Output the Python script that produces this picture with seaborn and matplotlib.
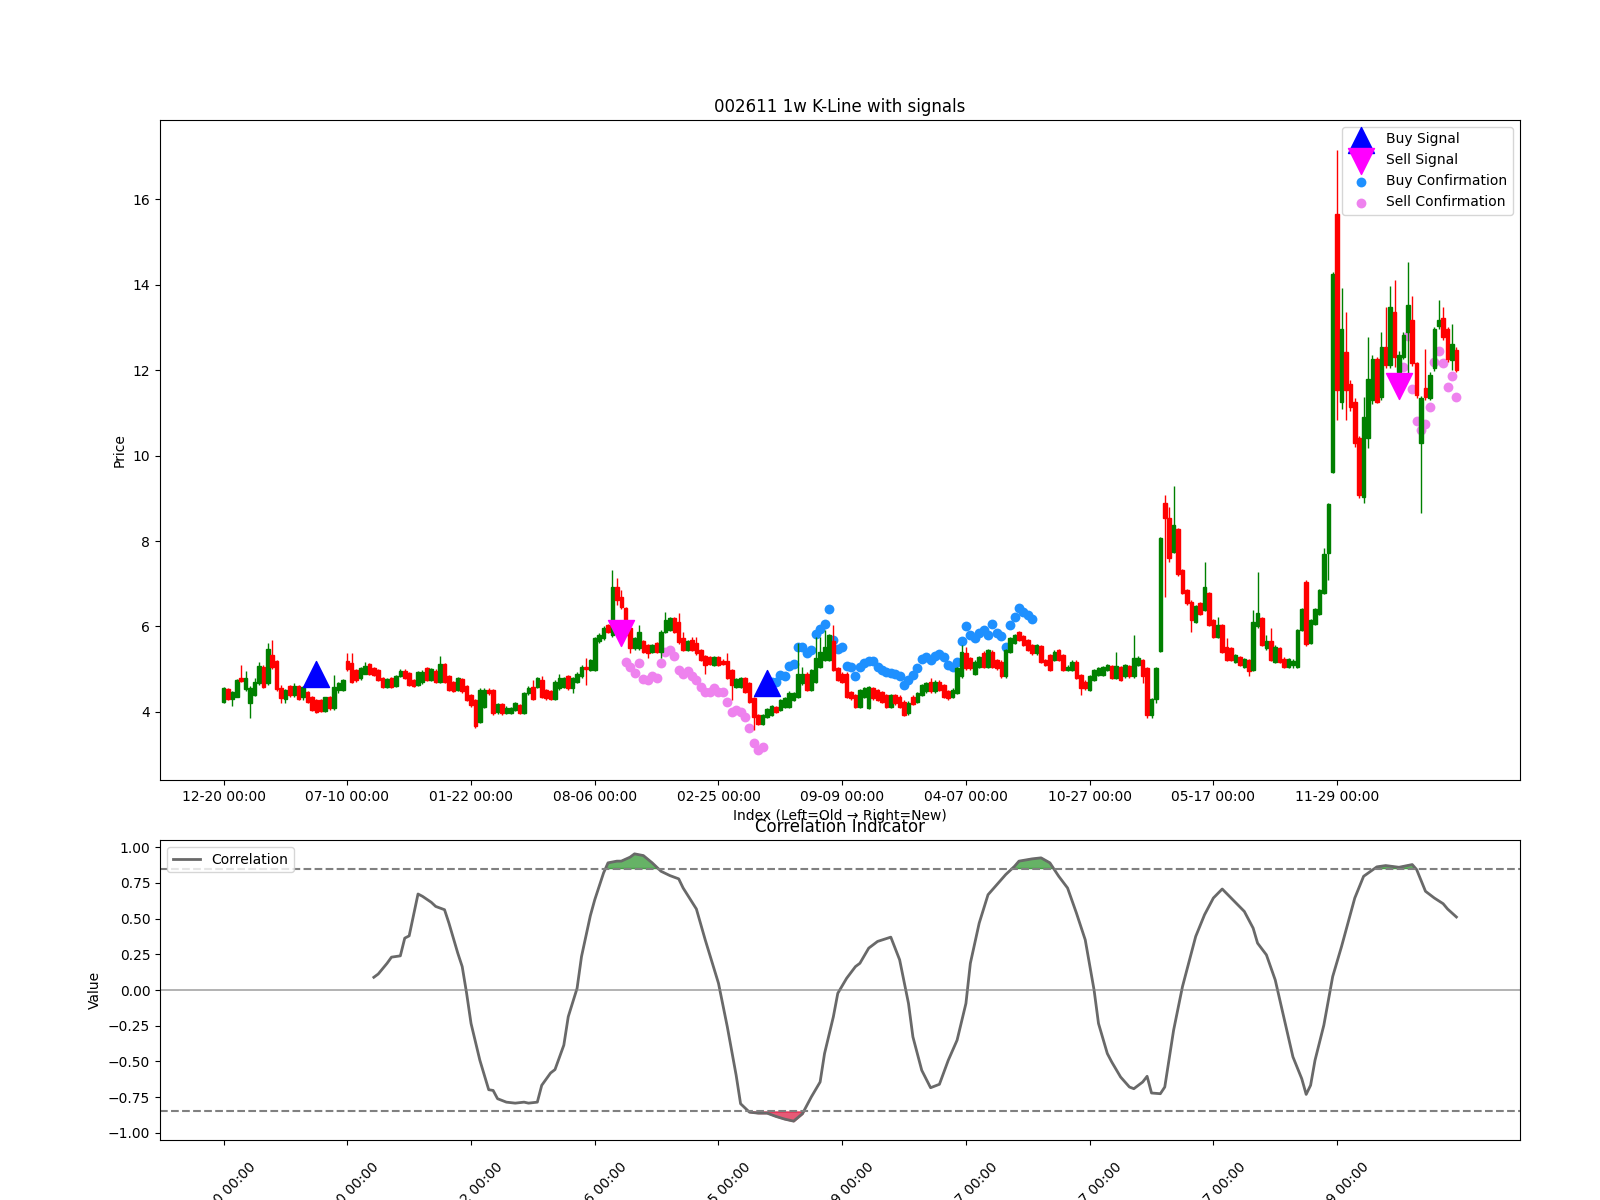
import numpy as np
import pandas as pd
import matplotlib
matplotlib.use("Agg")
import matplotlib.pyplot as plt
import seaborn as sns

# x tick labels (weekly bars, one label every 28 bars)
tick_pos = [0, 28, 56, 84, 112, 140, 168, 196, 224, 252]
tick_labels = ["12-20 00:00", "07-10 00:00", "01-22 00:00", "08-06 00:00", "02-25 00:00",
               "09-09 00:00", "04-07 00:00", "10-27 00:00", "05-17 00:00", "11-29 00:00"]

# weekly OHLC (index 0 = oldest)
opens = [
    4.23, 4.53, 4.30, 4.36, 4.79, 4.53, 4.20, 4.40, 4.67, 5.06,
    4.67, 5.33, 5.19, 4.55, 4.30, 4.61, 4.40, 4.61, 4.36, 4.47,
    4.36, 4.28, 4.28, 4.02, 4.34, 4.09, 4.51, 4.51, 5.19, 5.14,
    4.98, 4.79, 4.90, 5.12, 5.02, 4.98, 4.79, 4.58, 4.79, 4.61,
    4.84, 4.96, 4.92, 4.75, 4.63, 4.70, 5.02, 4.75, 4.97, 4.71,
    5.12, 4.83, 4.69, 4.51, 4.77, 4.61, 4.40, 4.28, 3.77, 4.12,
    4.51, 4.51, 3.99, 4.19, 3.97, 3.98, 4.05, 4.16, 3.97, 4.44,
    4.59, 4.59, 4.75, 4.51, 4.48, 4.30, 4.55, 4.59, 4.83, 4.55,
    4.71, 4.83, 5.06, 4.98, 4.98, 5.65, 5.72, 6.04, 5.80, 6.93,
    6.70, 6.43, 5.96, 5.49, 5.49, 5.65, 5.57, 5.41, 5.61, 5.41,
    5.88, 5.92, 6.19, 6.10, 5.72, 5.45, 5.68, 5.61, 5.45, 5.31,
    5.28, 5.10, 5.28, 5.20, 5.20, 4.98, 4.59, 4.59, 4.79, 4.67,
    4.32, 3.93, 3.73, 3.89, 3.93, 4.12, 4.05, 4.12, 4.12, 4.28,
    4.36, 4.67, 4.90, 4.51, 4.71, 5.06, 5.22, 5.22, 5.65, 5.02,
    4.90, 4.90, 4.47, 4.40, 4.12, 4.36, 4.09, 4.55, 4.51, 4.47,
    4.40, 4.12, 4.40, 4.36, 4.24, 3.97, 4.36, 4.24, 4.40, 4.48,
    4.71, 4.48, 4.71, 4.63, 4.48, 4.36, 4.44, 4.83, 5.37, 5.26,
    4.90, 5.06, 5.39, 5.06, 5.41, 5.22, 5.18, 4.83, 5.41, 5.61,
    5.86, 5.78, 5.68, 5.57, 5.37, 5.54, 5.22, 5.33, 5.22, 5.45,
    5.33, 4.98, 4.98, 5.18, 4.87, 4.71, 4.52, 4.75, 4.87, 4.87,
    4.98, 5.08, 4.79, 5.05, 4.83, 5.08, 4.83, 5.10, 5.22, 5.02,
    3.93, 4.30, 5.43, 8.88, 8.53, 7.75, 8.27, 7.32, 6.85, 6.58,
    6.11, 6.54, 6.39, 6.78, 6.15, 5.76, 6.04, 5.53, 5.49, 5.17,
    5.29, 5.06, 5.22, 4.98, 6.00, 6.19, 5.49, 5.65, 5.18, 5.49,
    5.25, 5.06, 5.10, 5.06, 5.92, 7.05, 5.61, 6.07, 6.29, 6.78,
    7.71, 9.62, 15.66, 11.26, 12.43, 11.67, 11.26, 10.40, 9.04, 10.40,
    11.30, 12.27, 11.38, 12.55, 12.12, 13.37, 11.96, 12.31, 12.90, 13.18,
    12.16, 10.30, 11.57, 11.35, 12.04, 13.02, 13.21, 12.95, 12.23, 12.48,
]
closes = [
    4.55, 4.30, 4.47, 4.75, 4.72, 4.79, 4.55, 4.71, 5.08, 4.58,
    5.47, 5.06, 4.53, 4.32, 4.51, 4.40, 4.61, 4.30, 4.59, 4.24,
    4.05, 4.01, 4.02, 4.34, 4.09, 4.58, 4.67, 4.75, 5.00, 4.71,
    4.75, 5.02, 5.08, 4.90, 4.87, 4.75, 4.58, 4.76, 4.59, 4.84,
    4.96, 4.79, 4.63, 4.61, 4.94, 4.94, 4.75, 5.00, 4.71, 5.12,
    4.71, 4.51, 4.50, 4.79, 4.48, 4.28, 4.16, 3.66, 4.51, 4.51,
    4.44, 3.97, 4.19, 3.97, 4.10, 4.09, 4.20, 3.97, 4.44, 4.55,
    4.30, 4.79, 4.36, 4.32, 4.30, 4.71, 4.79, 4.79, 4.55, 4.79,
    4.90, 5.06, 5.00, 5.22, 5.72, 5.80, 5.96, 5.88, 6.93, 6.62,
    6.46, 5.80, 5.49, 5.72, 5.88, 5.41, 5.37, 5.57, 5.41, 5.88,
    6.15, 6.19, 5.88, 5.63, 5.45, 5.65, 5.45, 5.37, 5.22, 5.10,
    5.12, 5.28, 5.10, 5.12, 4.79, 4.63, 4.76, 4.79, 4.47, 4.24,
    3.89, 3.73, 3.93, 4.07, 4.14, 4.01, 4.28, 4.32, 4.45, 4.44,
    4.90, 4.90, 4.51, 4.98, 5.26, 5.41, 5.53, 5.80, 4.98, 4.75,
    4.71, 4.36, 4.32, 4.12, 4.51, 4.55, 4.58, 4.32, 4.28, 4.24,
    4.12, 4.40, 4.20, 4.12, 3.93, 4.22, 4.19, 4.44, 4.63, 4.67,
    4.48, 4.71, 4.52, 4.36, 4.32, 4.52, 5.02, 5.41, 5.02, 5.02,
    5.18, 5.29, 5.06, 5.45, 5.06, 5.02, 4.83, 5.45, 5.72, 5.80,
    5.68, 5.57, 5.45, 5.37, 5.57, 5.18, 5.10, 4.98, 5.41, 5.22,
    4.98, 5.06, 5.18, 4.79, 4.55, 4.55, 4.83, 4.98, 5.02, 5.05,
    5.10, 4.79, 5.08, 4.75, 5.10, 4.83, 5.26, 5.27, 4.83, 3.93,
    4.30, 5.02, 8.06, 8.53, 7.60, 8.37, 7.22, 6.78, 6.54, 6.15,
    6.48, 6.30, 6.93, 6.04, 5.76, 6.04, 5.41, 5.22, 5.22, 5.33,
    5.10, 5.23, 4.97, 6.11, 6.32, 5.57, 5.65, 5.22, 5.53, 5.18,
    5.06, 5.23, 5.20, 5.92, 6.40, 5.58, 6.15, 6.40, 6.85, 7.70,
    8.87, 14.26, 11.53, 12.97, 11.53, 11.14, 10.29, 9.08, 10.91, 11.78,
    12.27, 11.26, 12.55, 12.12, 13.48, 12.31, 12.35, 12.82, 13.52, 12.16,
    11.42, 11.35, 11.38, 11.88, 12.95, 13.18, 12.78, 12.25, 12.61, 12.00,
]
highs = [
    4.58, 4.56, 4.50, 4.78, 5.10, 4.97, 4.60, 4.79, 5.18, 5.10,
    5.61, 5.68, 5.22, 4.63, 4.53, 4.63, 4.67, 4.63, 4.61, 4.50,
    4.38, 4.30, 4.30, 4.36, 4.38, 4.87, 4.70, 4.78, 5.37, 5.37,
    5.00, 5.05, 5.18, 5.14, 5.05, 5.00, 4.81, 4.79, 4.81, 4.87,
    5.00, 5.00, 4.94, 4.78, 4.97, 4.98, 5.05, 5.02, 5.00, 5.30,
    5.15, 4.86, 4.72, 4.82, 4.80, 4.64, 4.43, 4.30, 4.55, 4.55,
    4.55, 4.53, 4.22, 4.21, 4.13, 4.12, 4.23, 4.18, 4.47, 4.60,
    4.75, 4.82, 4.85, 4.54, 4.51, 4.74, 4.88, 4.82, 4.86, 4.82,
    4.93, 5.09, 5.26, 5.25, 5.75, 5.84, 6.00, 6.07, 7.32, 7.13,
    6.85, 6.46, 5.99, 5.75, 6.04, 5.68, 5.60, 5.60, 5.64, 5.91,
    6.35, 6.22, 6.22, 6.31, 5.88, 5.68, 5.76, 5.76, 5.48, 5.34,
    5.31, 5.31, 5.31, 5.23, 5.37, 5.01, 4.79, 4.82, 4.82, 4.70,
    4.35, 3.96, 3.96, 4.10, 4.17, 4.15, 4.31, 4.35, 4.48, 4.47,
    5.61, 5.06, 4.93, 5.01, 5.76, 5.76, 5.92, 5.83, 6.04, 5.05,
    4.93, 4.93, 4.50, 4.43, 4.54, 4.58, 4.61, 4.58, 4.54, 4.50,
    4.43, 4.43, 4.43, 4.39, 4.27, 4.25, 4.39, 4.47, 4.66, 4.70,
    4.79, 4.74, 4.74, 4.66, 4.51, 4.55, 5.05, 5.57, 5.53, 5.29,
    5.21, 5.32, 5.42, 5.48, 5.44, 5.25, 5.21, 5.48, 5.75, 5.83,
    5.89, 5.81, 5.71, 5.60, 5.60, 5.57, 5.25, 5.36, 5.44, 5.48,
    5.36, 5.09, 5.21, 5.21, 4.90, 4.74, 4.86, 5.01, 5.05, 5.08,
    5.13, 5.11, 5.41, 5.08, 5.13, 5.11, 5.80, 5.30, 5.25, 5.05,
    4.33, 5.05, 8.09, 9.07, 8.80, 9.29, 8.30, 7.35, 6.88, 6.61,
    6.51, 6.57, 7.52, 6.81, 6.18, 6.23, 6.07, 5.72, 5.52, 5.36,
    5.32, 5.26, 5.25, 6.38, 7.28, 6.22, 5.80, 5.96, 5.56, 5.52,
    5.28, 5.26, 5.23, 5.95, 6.43, 7.08, 6.18, 6.43, 6.88, 7.83,
    8.90, 14.29, 17.15, 13.91, 13.37, 11.76, 11.35, 10.45, 11.38, 12.78,
    12.35, 12.31, 12.90, 13.48, 13.97, 14.10, 12.45, 12.90, 14.54, 13.73,
    12.20, 11.40, 12.50, 11.95, 13.00, 13.64, 13.48, 13.00, 13.09, 12.55,
]
lows = [
    4.20, 4.28, 4.14, 4.34, 4.70, 4.50, 3.85, 4.38, 4.62, 4.55,
    4.62, 5.00, 4.50, 4.20, 4.20, 4.36, 4.36, 4.28, 4.28, 4.20,
    4.02, 3.98, 4.00, 4.00, 4.05, 4.05, 4.45, 4.48, 4.97, 4.68,
    4.70, 4.75, 4.88, 4.87, 4.84, 4.72, 4.55, 4.55, 4.56, 4.58,
    4.81, 4.76, 4.60, 4.58, 4.60, 4.66, 4.72, 4.72, 4.68, 4.68,
    4.68, 4.48, 4.46, 4.48, 4.44, 4.25, 4.12, 3.62, 3.74, 4.09,
    4.40, 3.92, 3.96, 3.94, 3.95, 3.96, 4.02, 3.95, 3.95, 4.40,
    4.27, 4.56, 4.33, 4.29, 4.27, 4.27, 4.52, 4.56, 4.52, 4.44,
    4.68, 4.80, 4.63, 4.95, 4.95, 5.62, 5.69, 5.85, 5.75, 6.50,
    6.40, 5.77, 5.37, 5.46, 5.46, 5.38, 5.26, 5.38, 5.38, 5.26,
    5.85, 5.89, 5.85, 5.60, 5.42, 5.42, 5.42, 5.34, 5.19, 4.90,
    5.09, 5.07, 5.07, 5.09, 4.76, 4.28, 4.56, 4.56, 4.44, 4.21,
    3.58, 3.70, 3.70, 3.86, 3.90, 3.98, 4.02, 4.09, 4.09, 4.25,
    4.33, 4.64, 4.48, 4.48, 4.68, 5.03, 5.19, 5.19, 4.95, 4.72,
    4.68, 4.33, 4.29, 4.09, 4.09, 4.33, 4.06, 4.29, 4.25, 4.21,
    4.09, 4.09, 4.17, 4.09, 3.90, 3.94, 4.16, 4.21, 4.37, 4.45,
    4.45, 4.45, 4.49, 4.33, 4.29, 4.33, 4.41, 4.80, 4.99, 4.99,
    4.87, 5.03, 5.03, 5.03, 5.03, 4.99, 4.80, 4.80, 5.38, 5.58,
    5.65, 5.54, 5.42, 5.34, 5.34, 5.15, 5.07, 4.95, 5.19, 5.19,
    4.95, 4.95, 4.95, 4.76, 4.40, 4.52, 4.49, 4.72, 4.84, 4.84,
    4.95, 4.76, 4.76, 4.72, 4.80, 4.80, 4.80, 5.07, 4.67, 3.85,
    3.85, 4.20, 5.40, 6.70, 7.50, 7.72, 7.19, 6.75, 6.51, 5.88,
    6.08, 6.27, 6.36, 6.01, 5.73, 5.73, 5.38, 5.19, 5.19, 5.14,
    5.07, 5.03, 4.83, 4.95, 5.97, 5.54, 5.46, 5.19, 5.15, 5.15,
    5.03, 5.03, 5.03, 5.03, 5.89, 5.55, 5.58, 6.04, 6.26, 6.75,
    7.08, 9.59, 10.83, 11.10, 10.83, 11.05, 10.20, 9.00, 8.88, 10.17,
    11.20, 11.22, 11.30, 12.05, 12.05, 12.08, 11.90, 12.25, 11.92, 12.10,
    11.35, 8.65, 11.30, 11.30, 11.98, 12.95, 12.70, 12.20, 12.00, 11.95,
]

# signals
buy_idx = [21, 123]
buy_px = [4.90, 4.67]
sell_idx = [90, 266]
sell_px = [5.84, 11.63]

buyc_idx = list(range(124, 184))
buyc_px = [
    4.69, 4.71, 4.87, 4.84, 5.08, 5.12, 5.51, 5.53, 5.39, 5.45,
    5.82, 5.93, 6.07, 6.40, 5.68, 5.48, 5.53, 5.08, 5.06, 4.84,
    5.06, 5.15, 5.20, 5.20, 5.05, 4.98, 4.94, 4.92, 4.90, 4.84,
    4.63, 4.75, 4.87, 5.02, 5.24, 5.28, 5.22, 5.30, 5.36, 5.28,
    5.10, 5.06, 5.18, 5.65, 6.01, 5.80, 5.72, 5.84, 5.92, 5.80,
    6.07, 5.84, 5.78, 5.53, 6.04, 6.23, 6.43, 6.35, 6.28, 6.17,
]
sellc_idx = list(range(91, 123)) + list(range(267, 280))
sellc_px = [
    5.18, 5.05, 4.91, 5.14, 4.77, 4.75, 4.83, 4.79, 5.14, 5.40,
    5.45, 5.31, 4.98, 4.90, 4.96, 4.84, 4.75, 4.59, 4.47, 4.47,
    4.55, 4.47, 4.47, 4.24, 4.01, 4.05, 4.01, 3.89, 3.62, 3.28,
    3.11, 3.17,
    12.08, 12.80, 11.55, 10.81, 10.60, 10.75, 11.14, 12.20, 12.45, 12.16,
    11.61, 11.86, 11.36,
]

# correlation indicator (sampled along the curve)
corr_idx = [
    34, 35, 37, 38, 40, 41, 42, 44, 45, 47, 48, 50, 51, 53, 54, 55, 56, 58, 60, 61,
    62, 64, 66, 68, 69, 71, 72, 74, 75, 77, 78, 80, 81, 83, 84, 86, 87, 89, 90, 92,
    93, 95, 97, 99, 101, 103, 104, 107, 109, 112, 114, 116, 117, 119, 121, 123, 125, 127, 129, 131,
    133, 135, 136, 138, 139, 141, 143, 144, 146, 148, 151, 153, 155, 156, 158, 160, 162, 164, 166, 168,
    169, 171, 173, 175, 177, 179, 180, 183, 185, 187, 189, 191, 193, 195, 197, 198, 200, 201, 203, 205,
    206, 208, 209, 210, 212, 213, 215, 217, 219, 220, 222, 224, 226, 228, 231, 233, 234, 236, 238, 240,
    242, 244, 245, 246, 247, 249, 251, 253, 256, 258, 261, 263, 266, 269, 270, 272, 274, 276, 277, 279,
]
corr_val = [
    0.089, 0.112, 0.187, 0.230, 0.239, 0.363, 0.379, 0.672, 0.656, 0.614,
    0.585, 0.562, 0.468, 0.258, 0.164, -0.023, -0.234, -0.492, -0.698, -0.703,
    -0.761, -0.785, -0.792, -0.785, -0.792, -0.785, -0.667, -0.581, -0.557, -0.386,
    -0.187, 0.012, 0.234, 0.520, 0.632, 0.820, 0.890, 0.902, 0.902, 0.930,
    0.953, 0.941, 0.890, 0.831, 0.801, 0.778, 0.714, 0.567, 0.351, 0.047,
    -0.258, -0.597, -0.796, -0.855, -0.862, -0.862, -0.885, -0.904, -0.918, -0.866,
    -0.749, -0.644, -0.445, -0.187, -0.023, 0.082, 0.164, 0.187, 0.293, 0.340,
    0.370, 0.211, -0.094, -0.328, -0.562, -0.684, -0.660, -0.492, -0.351, -0.094,
    0.187, 0.468, 0.667, 0.738, 0.808, 0.866, 0.902, 0.918, 0.925, 0.890,
    0.796, 0.714, 0.539, 0.351, 0.000, -0.234, -0.445, -0.504, -0.609, -0.679,
    -0.691, -0.644, -0.604, -0.721, -0.726, -0.679, -0.281, 0.023, 0.258, 0.375,
    0.527, 0.644, 0.707, 0.644, 0.550, 0.433, 0.328, 0.246, 0.070, -0.199,
    -0.468, -0.621, -0.731, -0.667, -0.492, -0.246, 0.094, 0.304, 0.644, 0.796,
    0.862, 0.871, 0.859, 0.878, 0.843, 0.691, 0.644, 0.604, 0.567, 0.511,
]

df = pd.DataFrame({"open": opens, "close": closes, "high": highs, "low": lows})
df["idx"] = np.arange(len(df))
up = df["close"] >= df["open"]
colors = np.where(up, "green", "red")

fig = plt.figure(figsize=(16, 12))
gs = fig.add_gridspec(2, 1, height_ratios=[11, 5], left=0.1, right=0.95,
                      top=0.9, bottom=0.05, hspace=0.125)
ax1 = fig.add_subplot(gs[0])
ax2 = fig.add_subplot(gs[1], sharex=ax1)

# candles
ax1.vlines(df["idx"], df["low"], df["high"], colors=colors, linewidth=1, zorder=1.5)
ax1.bar(df["idx"], (df["close"] - df["open"]).abs(),
        bottom=df[["open", "close"]].min(axis=1), width=0.8,
        color=colors, edgecolor=colors, linewidth=1, zorder=2)

# signals
sns.scatterplot(x=buy_idx, y=buy_px, marker="^", s=350, color="blue",
                edgecolor="blue", linewidth=1, label="Buy Signal", ax=ax1, zorder=3)
sns.scatterplot(x=sell_idx, y=sell_px, marker="v", s=350, color="magenta",
                edgecolor="magenta", linewidth=1, label="Sell Signal", ax=ax1, zorder=3)
sns.scatterplot(x=buyc_idx, y=buyc_px, s=50, color="dodgerblue", linewidth=0,
                label="Buy Confirmation", ax=ax1, zorder=1)
sns.scatterplot(x=sellc_idx, y=sellc_px, s=50, color="violet", linewidth=0,
                label="Sell Confirmation", ax=ax1, zorder=1)

ax1.set_title("002611 1w K-Line with signals")
ax1.set_ylabel("Price")
ax1.set_xlabel("Index (Left=Old \u2192 Right=New)")
ax1.set_xticks(tick_pos)
ax1.set_xticklabels(tick_labels)
ax1.legend(loc="upper right")

# correlation panel
cx = np.array(corr_idx)
cy = np.array(corr_val)
sns.lineplot(x=cx, y=cy, color="dimgray", linewidth=2, label="Correlation", ax=ax2)
ax2.axhline(0.85, color="gray", linestyle="--", linewidth=1.5)
ax2.axhline(-0.85, color="gray", linestyle="--", linewidth=1.5)
ax2.axhline(0, color="gray", alpha=0.7, linewidth=1.2)
ax2.fill_between(cx, cy, 0.85, where=cy > 0.85, interpolate=True, color="green", alpha=0.6)
ax2.fill_between(cx, cy, -0.85, where=cy < -0.85, interpolate=True, color="crimson", alpha=0.7)
ax2.set_ylim(-1.05, 1.05)
ax2.set_title("Correlation Indicator")
ax2.set_ylabel("Value")
ax2.set_xlabel("")
ax2.legend(loc="upper left")
ax2.tick_params(axis="x", labelrotation=45, pad=10.5)

fig.savefig("out.png", dpi=100)
